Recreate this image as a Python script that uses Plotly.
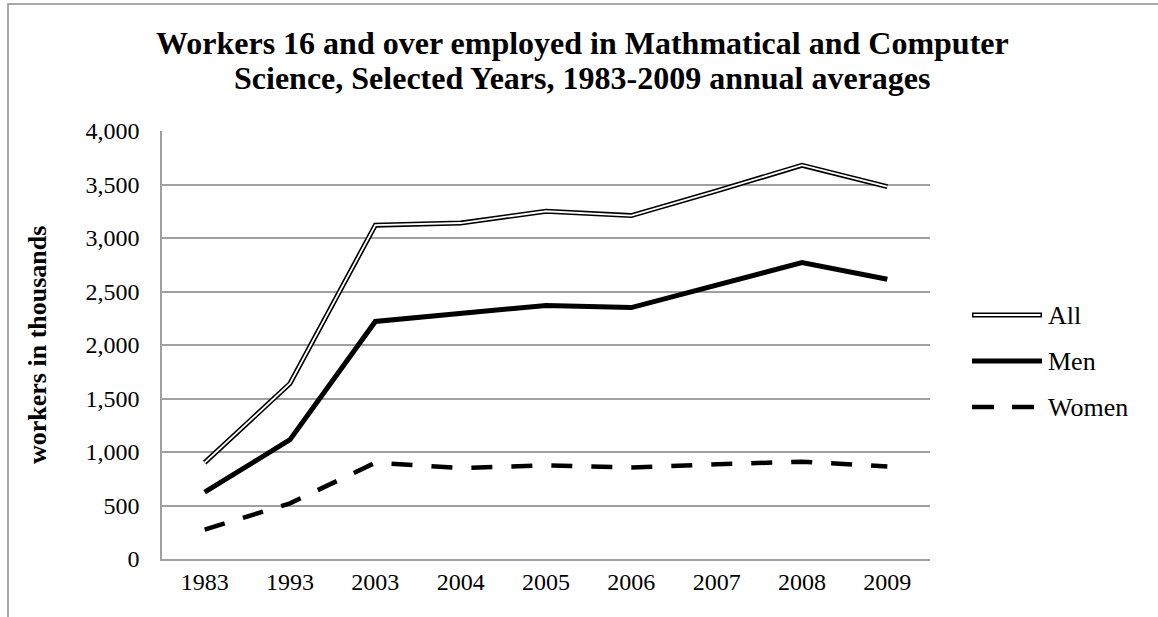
import plotly.graph_objects as go

years = ["1983", "1993", "2003", "2004", "2005", "2006", "2007", "2008", "2009"]
all_workers = [900, 1640, 3120, 3140, 3250, 3210, 3440, 3680, 3480]
men = [625, 1115, 2220, 2290, 2370, 2350, 2560, 2770, 2615]
women = [275, 520, 900, 850, 875, 855, 885, 910, 865]
series_names = ["All", "Men", "Women"]
y_ticks = [0, 500, 1000, 1500, 2000, 2500, 3000, 3500, 4000]
title_lines = ["Workers 16 and over employed in Mathmatical and Computer",
               "Science, Selected Years, 1983-2009 annual averages"]

FONT = "Liberation Serif"
GRID = "#a0a0a0"

# plot-area geometry in pixels (for converting margin decorations to paper coords)
L, R, T, B = 162, 930, 131, 559
W, H = 1158, 617
def px(x):
    return (x - L) / (R - L)
def py(y):
    return (B - y) / (B - T)

fig = go.Figure()
fig.add_trace(go.Scatter(x=years, y=all_workers, mode="lines", name="All",
                         line=dict(color="black", width=5), showlegend=False,
                         hoverinfo="x+y"))
fig.add_trace(go.Scatter(x=years, y=all_workers, mode="lines", name="All",
                         line=dict(color="white", width=1.8), showlegend=False,
                         hoverinfo="skip"))
fig.add_trace(go.Scatter(x=years, y=men, mode="lines", name="Men",
                         line=dict(color="black", width=5), showlegend=False))
fig.add_trace(go.Scatter(x=years, y=women, mode="lines", name="Women",
                         line=dict(color="black", width=4.5, dash="21px,19px"),
                         showlegend=False))

shapes = []
# outer chart frame (cropped at right and bottom)
shapes.append(dict(type="rect", xref="paper", yref="paper",
                   x0=px(8), x1=px(1200), y0=py(700), y1=py(4),
                   line=dict(color="#8c8c8c", width=1.5), fillcolor="rgba(0,0,0,0)",
                   layer="below"))

# manual legend
leg_x0, leg_x1, leg_tx = px(972), px(1042), px(1046)
leg_y = [py(315), py(361), py(407)]
shapes.append(dict(type="line", xref="paper", yref="paper", x0=leg_x0, x1=leg_x1,
                   y0=leg_y[0], y1=leg_y[0], line=dict(color="black", width=5)))
shapes.append(dict(type="line", xref="paper", yref="paper", x0=leg_x0 + 0.002, x1=leg_x1 - 0.002,
                   y0=leg_y[0], y1=leg_y[0], line=dict(color="white", width=1.8)))
shapes.append(dict(type="line", xref="paper", yref="paper", x0=leg_x0, x1=leg_x1,
                   y0=leg_y[1], y1=leg_y[1], line=dict(color="black", width=5)))
shapes.append(dict(type="line", xref="paper", yref="paper", x0=leg_x0, x1=leg_x1,
                   y0=leg_y[2], y1=leg_y[2], line=dict(color="black", width=4.5, dash="22px,18px")))

annotations = []
for name, yy in zip(series_names, leg_y):
    annotations.append(dict(text=name, xref="paper", yref="paper", x=leg_tx, y=yy,
                            xanchor="left", yanchor="middle", showarrow=False,
                            font=dict(family=FONT, size=26, color="black")))
annotations.append(dict(text="<b>workers in thousands</b>", xref="paper", yref="paper",
                        x=px(37), y=py(345), textangle=-90, xanchor="center",
                        yanchor="middle", showarrow=False,
                        font=dict(family=FONT, size=26, color="black")))
for line, yc in zip(title_lines, [43, 78]):
    annotations.append(dict(text="<b>" + line + "</b>", xref="paper", yref="paper",
                            x=px(582), y=py(yc), xanchor="center", yanchor="middle",
                            showarrow=False,
                            font=dict(family=FONT, size=32, color="black")))

fig.update_layout(
    width=W, height=H,
    margin=dict(l=L, r=W - R, t=T, b=H - B),
    paper_bgcolor="white", plot_bgcolor="white",
    font=dict(family=FONT, size=24, color="black"),
    shapes=shapes, annotations=annotations,
    showlegend=False,
)
fig.update_xaxes(type="category", showgrid=False, showline=True, linecolor=GRID,
                 linewidth=1.5, ticks="", tickfont=dict(family=FONT, size=24, color="black"),
                 range=[-0.5, len(years) - 0.5], fixedrange=True)
fig.update_yaxes(range=[0, 4000], tickvals=y_ticks, tickformat=",", showgrid=True,
                 gridcolor=GRID, gridwidth=1.5, showline=True, linecolor=GRID,
                 linewidth=1.5, zeroline=False, ticks="", ticklabelstandoff=16,
                 tickfont=dict(family=FONT, size=24, color="black"), fixedrange=True)

fig.write_html("out.html", config={"displayModeBar": False},
               post_script="document.body.style.margin='0px';")
